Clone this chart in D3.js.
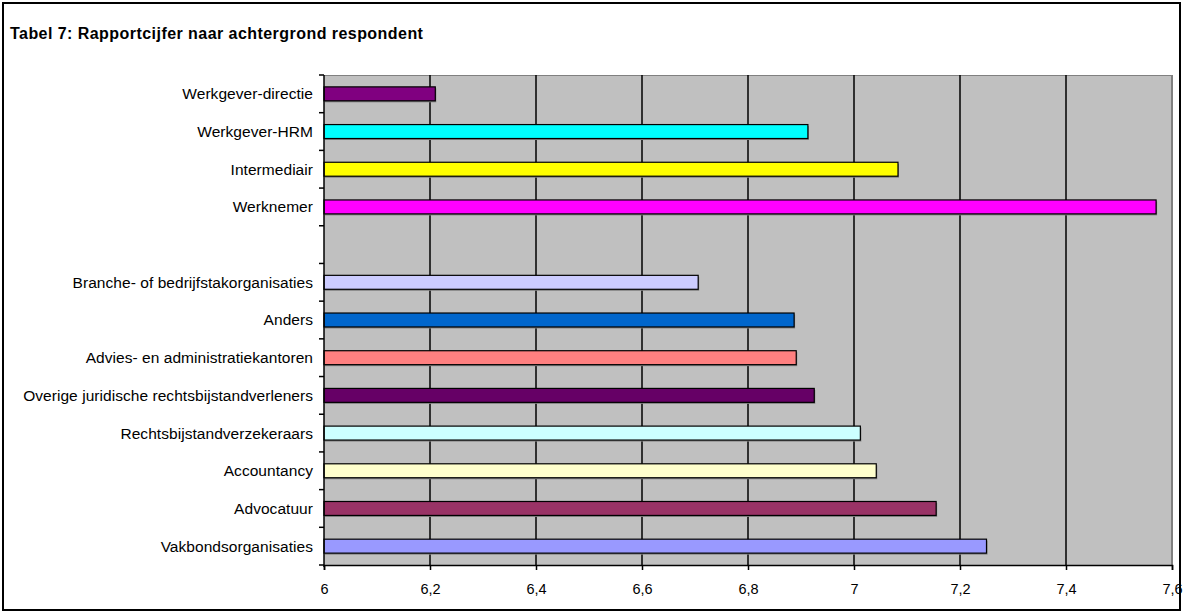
<!DOCTYPE html>
<html>
<head>
<meta charset="utf-8">
<script src="https://cdn.jsdelivr.net/npm/d3@7"></script>
<style>
  html, body { margin: 0; padding: 0; background: #fff; }
  svg { display: block; }
  text { font-family: "Liberation Sans", Arial, sans-serif; fill: #000; }
</style>
</head>
<body>
<svg id="chart" width="1183" height="614"></svg>
<script>
// Respondent groups, top to bottom; the empty entry is the spacer between the two blocks
const categories = [
  "Werkgever-directie",
  "Werkgever-HRM",
  "Intermediair",
  "Werknemer",
  "",
  "Branche- of bedrijfstakorganisaties",
  "Anders",
  "Advies- en administratiekantoren",
  "Overige juridische rechtsbijstandverleners",
  "Rechtsbijstandverzekeraars",
  "Accountancy",
  "Advocatuur",
  "Vakbondsorganisaties"
];
const scores = [6.21, 6.913, 7.083, 7.57, null, 6.706, 6.887, 6.891, 6.925, 7.012, 7.042, 7.155, 7.25];
const barColors = [
  "#800080", "#00FFFF", "#FFFF00", "#FF00FF", null,
  "#CCCCFF", "#0066CC", "#FF8080", "#660066", "#CCFFFF", "#FFFFCC", "#993366", "#9999FF"
];
const xTicks = [6, 6.2, 6.4, 6.6, 6.8, 7, 7.2, 7.4, 7.6];
const titleText = "Tabel 7: Rapportcijfer naar achtergrond respondent";

const svg = d3.select("#chart");
const plot = { left: 324, right: 1172, top: 75, bottom: 565 };

const keys = categories.map((c, i) => "k" + i);
const rows = categories.map((c, i) => ({ key: keys[i], name: c, value: scores[i], color: barColors[i] }));

const x = d3.scaleLinear().domain([6, 7.6]).range([plot.left, plot.right]);
const y = d3.scaleBand().domain(keys).range([plot.top, plot.bottom])
  .paddingInner(0.63).paddingOuter(0.315);
const step = y.step();

// outer frame
svg.append("rect")
  .attr("x", 3).attr("y", 3).attr("width", 1177).attr("height", 607)
  .attr("fill", "#fff").attr("stroke", "#000").attr("stroke-width", 2);

// title
svg.append("text")
  .attr("x", 10).attr("y", 39)
  .style("font-weight", "bold").style("font-size", "16px")
  .style("letter-spacing", "0.45px")
  .text(titleText);

// plot background
svg.append("rect")
  .attr("x", plot.left).attr("y", plot.top)
  .attr("width", plot.right - plot.left).attr("height", plot.bottom - plot.top)
  .attr("fill", "#C0C0C0");
svg.append("line")
  .attr("x1", plot.left).attr("x2", plot.right)
  .attr("y1", plot.top + 0.5).attr("y2", plot.top + 0.5)
  .attr("stroke", "#808080").attr("stroke-width", 1);
svg.append("line")
  .attr("x1", plot.right).attr("x2", plot.right)
  .attr("y1", plot.top).attr("y2", plot.bottom)
  .attr("stroke", "#808080").attr("stroke-width", 2);

// vertical gridlines
svg.append("g").selectAll("line")
  .data(xTicks.filter(t => t > 6 && t < 7.6))
  .join("line")
  .attr("x1", d => x(d)).attr("x2", d => x(d))
  .attr("y1", plot.top).attr("y2", plot.bottom)
  .attr("stroke", "#000").attr("stroke-width", 1.5);

// bars with a thin shadow
const bars = rows.filter(r => r.value != null);
svg.append("g").selectAll("rect")
  .data(bars)
  .join("rect")
  .attr("x", x(6) + 1).attr("y", d => y(d.key) + 1.5)
  .attr("width", d => x(d.value) - x(6)).attr("height", y.bandwidth())
  .attr("fill", "#808080");
svg.append("g").selectAll("rect")
  .data(bars)
  .join("rect")
  .attr("x", x(6)).attr("y", d => y(d.key))
  .attr("width", d => x(d.value) - x(6)).attr("height", y.bandwidth())
  .attr("fill", d => d.color)
  .attr("stroke", "#000").attr("stroke-width", 1.2);

// x axis
const xAxis = svg.append("g")
  .attr("transform", `translate(0,${plot.bottom})`)
  .call(d3.axisBottom(x).tickValues(xTicks).tickSize(5).tickPadding(14)
    .tickFormat(d => String(d).replace(".", ",")));
xAxis.select(".domain").attr("stroke", "#000").attr("stroke-width", 1.5);
xAxis.selectAll(".tick line").attr("stroke", "#000").attr("stroke-width", 1.5);
xAxis.selectAll(".tick text")
  .style("font-family", "'Liberation Sans', Arial, sans-serif")
  .style("font-size", "14.5px");

// y axis: category labels and boundary ticks
const yAxis = svg.append("g").attr("transform", `translate(${plot.left},0)`);
yAxis.append("line")
  .attr("x1", 0).attr("x2", 0).attr("y1", plot.top).attr("y2", plot.bottom + 2)
  .attr("stroke", "#000").attr("stroke-width", 1.5);
yAxis.selectAll("line.bt")
  .data(d3.range(keys.length + 1))
  .join("line").attr("class", "bt")
  .attr("x1", -5).attr("x2", 0)
  .attr("y1", i => plot.top + i * step).attr("y2", i => plot.top + i * step)
  .attr("stroke", "#000").attr("stroke-width", 1.5);
yAxis.selectAll("text")
  .data(rows.filter(r => r.name !== ""))
  .join("text")
  .attr("x", -11)
  .attr("y", d => y(d.key) + y.bandwidth() / 2)
  .attr("dy", "0.35em")
  .attr("text-anchor", "end")
  .style("font-size", "15.5px")
  .style("letter-spacing", "0.05px")
  .text(d => d.name);
</script>
</body>
</html>
